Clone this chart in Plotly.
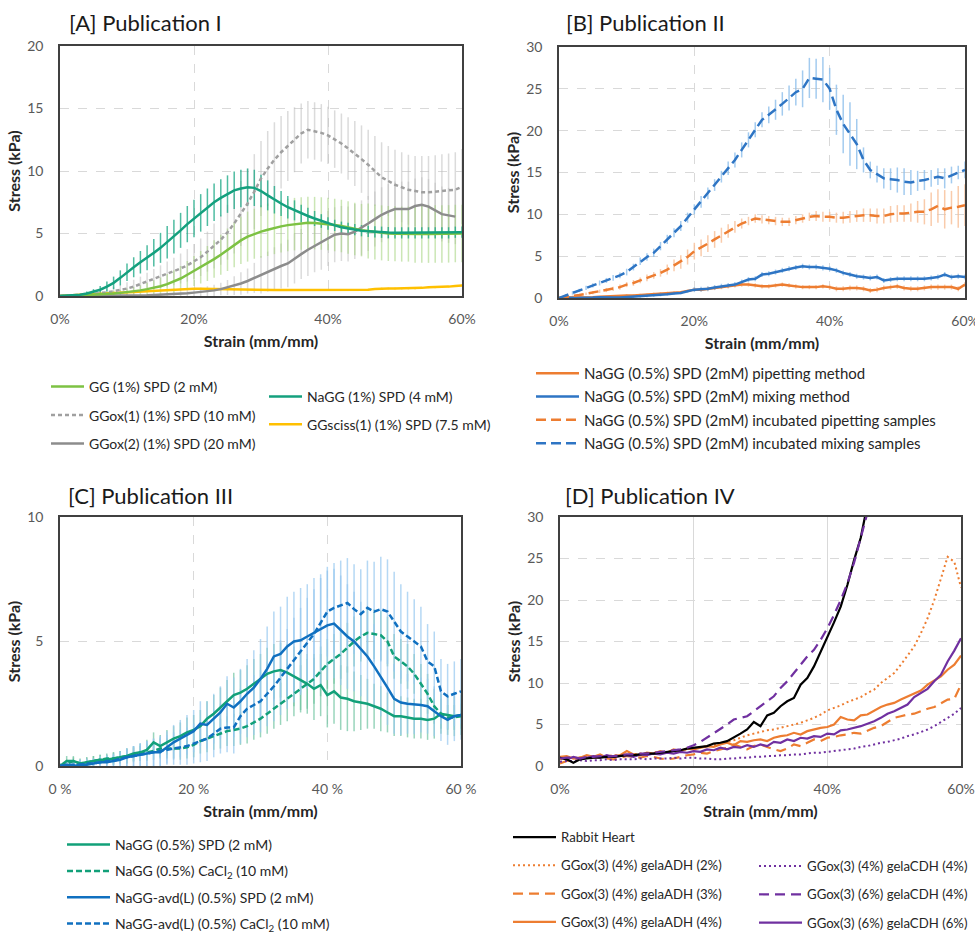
import plotly.graph_objects as go

# ---------------- data ----------------
STRAIN = list(range(61))  # strain in %
X_TICKS = [0, 20, 40, 60]
X_TICKTEXT = ["0%", "20%", "40%", "60%"]
X_TICKTEXT_C = ["0 %", "20 %", "40 %", "60 %"]

PANEL_TITLES = ["[A] Publication I", "[B] Publication II", "[C] Publication III", "[D] Publication IV"]
X_TITLE = "Strain (mm/mm)"
Y_TITLE = "Stress (kPa)"

# ---- Panel A ----
A_NAMES = ["GG (1%) SPD (2 mM)", "GGox(1) (1%) SPD (10 mM)", "GGox(2) (1%) SPD (20 mM)",
           "NaGG (1%) SPD (4 mM)", "GGsciss(1) (1%) SPD (7.5 mM)"]
A_GG = [0, 0, 0.02, 0.05, 0.08, 0.1, 0.13, 0.17, 0.2, 0.25, 0.3, 0.38, 0.45, 0.55, 0.65, 0.78, 0.95, 1.15, 1.4, 1.7,
        2.0, 2.3, 2.6, 2.95, 3.3, 3.7, 4.1, 4.45, 4.75, 4.98, 5.15, 5.3, 5.45, 5.57, 5.67, 5.75, 5.8, 5.85, 5.83, 5.8,
        5.75, 5.68, 5.6, 5.47, 5.35, 5.27, 5.2, 5.12, 5.05, 5.0, 4.97, 4.95, 4.95, 4.95, 4.95, 4.95, 4.95, 4.95, 4.97, 5.0, 5.0]
A_GG_ERR = [0.02, 0.03, 0.04, 0.05, 0.07, 0.1, 0.12, 0.15, 0.2, 0.25, 0.3, 0.35, 0.4, 0.5, 0.6, 0.7, 0.8, 0.9, 1.0, 1.1,
            1.2, 1.3, 1.4, 1.5, 1.6, 1.7, 1.8, 1.9, 2.0, 2.0, 2.1, 2.1, 2.1, 2.1, 2.1, 2.1, 2.1, 2.1, 2.1, 2.1,
            2.1, 2.1, 2.1, 2.1, 2.1, 2.1, 2.2, 2.2, 2.2, 2.2, 2.2, 2.2, 2.2, 2.3, 2.3, 2.3, 2.3, 2.3, 2.3, 2.3, 2.3]
A_GGOX1 = [0, 0.02, 0.05, 0.08, 0.12, 0.17, 0.22, 0.3, 0.38, 0.48, 0.6, 0.75, 0.95, 1.15, 1.35, 1.55, 1.75, 1.95, 2.2, 2.45,
           2.75, 3.1, 3.55, 4.0, 4.5, 5.1, 5.8, 6.6, 7.4, 8.35, 9.4, 10.2, 10.9, 11.5, 12.0, 12.5, 13.0, 13.3, 13.2, 13.05,
           12.85, 12.55, 12.2, 11.8, 11.4, 10.95, 10.5, 10.0, 9.5, 9.2, 8.9, 8.7, 8.5, 8.4, 8.3, 8.3, 8.35, 8.35, 8.4, 8.5, 8.75]
A_GGOX1_ERR = [0.05, 0.05, 0.1, 0.1, 0.15, 0.2, 0.25, 0.3, 0.35, 0.4, 0.5, 0.55, 0.6, 0.7, 0.8, 0.9, 1.0, 1.1, 1.2, 1.3,
               1.4, 1.5, 1.6, 1.8, 2.0, 2.2, 2.4, 2.6, 2.8, 3.0, 3.0, 3.0, 3.0, 2.9, 2.8, 2.6, 2.4, 2.3, 2.3, 2.3,
               2.3, 2.3, 2.4, 2.5, 2.6, 2.7, 2.8, 2.8, 2.8, 2.8, 2.8, 2.8, 2.8, 2.8, 2.9, 2.9, 2.9, 3.0, 3.0, 3.0, 3.0]
A_GGOX2 = [0, 0, 0, 0, 0, 0, 0, 0, 0.01, 0.02, 0.03, 0.04, 0.05, 0.06, 0.08, 0.1, 0.12, 0.15, 0.18, 0.22,
           0.27, 0.32, 0.38, 0.45, 0.55, 0.68, 0.82, 1.0, 1.2, 1.45, 1.7, 1.95, 2.2, 2.4, 2.6, 3.0, 3.35, 3.7, 4.0, 4.3,
           4.6, 4.9, 5.0, 4.95, 5.15, 5.45, 5.8, 6.15, 6.5, 6.75, 6.95, 6.95, 6.95, 7.2, 7.3, 7.15, 6.85, 6.55, 6.45, 6.35]
A_GGOX2_ERR = [0, 0, 0, 0, 0, 0, 0, 0, 0.02, 0.03, 0.05, 0.05, 0.06, 0.08, 0.1, 0.12, 0.15, 0.18, 0.2, 0.25,
               0.3, 0.35, 0.4, 0.45, 0.5, 0.6, 0.75, 0.9, 1.0, 1.2, 1.5, 1.6, 1.7, 1.8, 1.9, 2.0, 2.0, 2.1, 2.1, 2.2,
               2.2, 2.2, 2.2, 2.2, 2.2, 2.2, 2.2, 2.2, 2.2, 2.2, 2.2, 2.2, 2.2, 2.2, 2.2, 2.2, 2.2, 2.2, 2.2, 2.2]
A_NAGG = [0, 0.02, 0.05, 0.1, 0.2, 0.35, 0.5, 0.75, 1.05, 1.45, 1.9, 2.3, 2.7, 3.05, 3.45, 3.85, 4.3, 4.75, 5.25, 5.75,
          6.2, 6.65, 7.1, 7.5, 7.85, 8.15, 8.45, 8.6, 8.7, 8.65, 8.4, 8.05, 7.7, 7.4, 7.1, 6.85, 6.6, 6.4, 6.2, 6.0,
          5.8, 5.65, 5.5, 5.4, 5.3, 5.22, 5.17, 5.12, 5.1, 5.07, 5.05, 5.05, 5.05, 5.05, 5.05, 5.05, 5.05, 5.05, 5.05, 5.1, 5.1]
A_NAGG_ERR = [0.05, 0.05, 0.1, 0.1, 0.15, 0.2, 0.3, 0.4, 0.5, 0.6, 0.7, 0.8, 0.9, 1.0, 1.1, 1.2, 1.3, 1.35, 1.4, 1.45,
              1.5, 1.5, 1.5, 1.5, 1.5, 1.5, 1.5, 1.5, 1.5, 1.45, 1.3, 1.2, 1.1, 1.0, 0.9, 0.8, 0.7, 0.65, 0.6, 0.55,
              0.5, 0.45, 0.45, 0.45, 0.45, 0.45, 0.45, 0.45, 0.45, 0.45, 0.45, 0.45, 0.45, 0.45, 0.45, 0.45, 0.45, 0.45, 0.45, 0.45, 0.45]
A_SCISS = [0, 0.05, 0.08, 0.1, 0.12, 0.15, 0.17, 0.2, 0.22, 0.25, 0.28, 0.3, 0.33, 0.36, 0.4, 0.45, 0.5, 0.52, 0.55, 0.57,
           0.58, 0.58, 0.57, 0.55, 0.52, 0.5, 0.48, 0.48, 0.48, 0.48, 0.48, 0.48, 0.48, 0.48, 0.48, 0.48, 0.48, 0.48, 0.48, 0.48,
           0.48, 0.48, 0.48, 0.48, 0.48, 0.48, 0.5, 0.55, 0.6, 0.6, 0.6, 0.6, 0.6, 0.6, 0.65, 0.7, 0.7, 0.72, 0.75, 0.8, 0.85]
A_SCISS_ERR = [0.02] * 10 + [0.05] * 20 + [0.08] * 31

# ---- Panel B ----
B_NAMES = ["NaGG (0.5%) SPD (2mM) pipetting method", "NaGG (0.5%) SPD (2mM) mixing method",
           "NaGG (0.5%) SPD (2mM) incubated pipetting samples", "NaGG (0.5%) SPD (2mM) incubated mixing samples"]
B_PIP = [0, 0.1, 0.05, 0.05, 0.1, 0.1, 0.15, 0.2, 0.2, 0.25, 0.3, 0.3, 0.35, 0.4, 0.5, 0.55, 0.6, 0.65, 0.7, 0.85,
         1.0, 1.0, 1.1, 1.2, 1.3, 1.4, 1.5, 1.6, 1.6, 1.5, 1.4, 1.4, 1.5, 1.6, 1.5, 1.4, 1.3, 1.3, 1.3, 1.4,
         1.3, 1.1, 1.1, 1.2, 1.2, 1.1, 0.9, 1.0, 1.2, 1.3, 1.4, 1.2, 1.1, 1.1, 1.2, 1.3, 1.3, 1.3, 1.3, 1.1, 1.6]
B_PIP_ERR = [0.05] * 10 + [0.15] * 10 + [0.25] * 20 + [0.3] * 21
B_MIX = [0, 0, 0, 0, 0, 0.05, 0.1, 0.05, 0.05, 0.05, 0.1, 0.15, 0.2, 0.25, 0.3, 0.35, 0.45, 0.55, 0.6, 0.8,
         1.0, 1.05, 1.1, 1.25, 1.4, 1.5, 1.6, 1.9, 2.2, 2.3, 2.8, 2.9, 3.1, 3.3, 3.5, 3.65, 3.8, 3.7, 3.7, 3.6,
         3.5, 3.3, 3.0, 2.8, 2.6, 2.5, 2.4, 2.5, 2.1, 2.2, 2.3, 2.3, 2.3, 2.3, 2.3, 2.4, 2.5, 2.8, 2.5, 2.6, 2.5]
B_MIX_ERR = [0.05] * 10 + [0.15] * 10 + [0.3] * 20 + [0.3] * 21
B_INC_PIP = [0, 0.1, 0.2, 0.35, 0.5, 0.65, 0.8, 0.95, 1.1, 1.3, 1.6, 1.8, 2.1, 2.4, 2.7, 3.0, 3.4, 3.9, 4.3, 4.9,
             5.6, 6.0, 6.5, 7.0, 7.5, 8.0, 8.5, 8.9, 9.2, 9.5, 9.4, 9.3, 9.2, 9.1, 9.1, 9.3, 9.5, 9.7, 9.8, 9.7,
             9.7, 9.6, 9.6, 9.7, 9.8, 9.9, 9.9, 9.8, 9.8, 10.0, 10.1, 10.1, 10.2, 10.3, 10.3, 10.6, 11.0, 10.6, 10.8, 10.9, 11.1]
B_INC_PIP_ERR = [0.1, 0.1, 0.1, 0.15, 0.15, 0.2, 0.2, 0.25, 0.25, 0.3, 0.3, 0.35, 0.35, 0.4, 0.4, 0.45, 0.6, 0.7, 0.8, 0.9,
                 1.0, 1.0, 1.0, 1.0, 0.9, 0.8, 0.7, 0.6, 0.5, 0.5, 0.5, 0.5, 0.5, 0.5, 0.5, 0.5, 0.5, 0.5, 0.6, 0.6,
                 0.6, 0.6, 0.7, 0.7, 0.7, 0.8, 0.8, 0.9, 0.9, 1.0, 1.0, 1.0, 1.1, 1.3, 1.5, 2.0, 2.0, 2.3, 2.0, 2.5, 2.5]
B_INC_MIX = [0, 0.3, 0.6, 0.9, 1.2, 1.5, 1.8, 2.1, 2.4, 2.7, 3.1, 3.7, 4.4, 4.9, 5.4, 6.2, 7.0, 7.8, 8.6, 9.6,
             10.6, 11.5, 12.5, 13.5, 14.5, 15.5, 16.5, 17.7, 18.9, 20.1, 21.3, 21.9, 22.5, 23.2, 23.9, 24.6, 25.0, 26.3, 26.2, 26.1,
             25.0, 22.5, 20.8, 19.6, 18.4, 16.5, 15.3, 14.8, 14.3, 14.2, 14.1, 13.9, 13.8, 14.0, 14.1, 14.3, 14.5, 14.3, 14.7, 15.0, 15.3]
B_INC_MIX_ERR = [0.1, 0.15, 0.2, 0.2, 0.25, 0.25, 0.3, 0.3, 0.35, 0.35, 0.4, 0.4, 0.45, 0.45, 0.5, 0.5, 0.55, 0.55, 0.6, 0.6,
                 0.6, 0.7, 0.7, 0.7, 0.7, 0.8, 0.9, 0.9, 0.9, 0.9, 0.9, 1.0, 1.2, 1.4, 1.5, 1.6, 2.2, 2.4, 2.4, 2.7,
                 2.5, 3.0, 3.5, 3.8, 3.0, 1.5, 1.0, 1.0, 1.2, 1.3, 1.5, 1.6, 1.5, 1.2, 1.2, 1.0, 1.0, 1.2, 1.0, 0.8, 1.0]

# ---- Panel C ----
C_NAMES = ["NaGG (0.5%) SPD (2 mM)", "NaGG (0.5%) CaCl<sub>2</sub> (10 mM)",
           "NaGG-avd(L) (0.5%) SPD (2 mM)", "NaGG-avd(L) (0.5%) CaCl<sub>2</sub> (10 mM)"]
C_NAGG_SPD = [0, 0.2, 0.2, 0.1, 0.15, 0.2, 0.25, 0.25, 0.3, 0.35, 0.4, 0.5, 0.55, 0.65, 0.95, 0.8, 0.95, 1.1, 1.2, 1.35,
              1.45, 1.6, 1.9, 2.1, 2.35, 2.6, 2.85, 2.95, 3.1, 3.3, 3.5, 3.7, 3.8, 3.85, 3.75, 3.6, 3.45, 3.3, 3.1, 3.25,
              2.85, 3.0, 2.75, 2.7, 2.6, 2.55, 2.5, 2.4, 2.3, 2.15, 2.0, 2.0, 1.95, 1.9, 1.9, 1.85, 1.9, 2.1, 2.05, 2.0, 2.05]
C_NAGG_SPD_ERR = [0.1, 0.2, 0.2, 0.2, 0.2, 0.2, 0.2, 0.2, 0.25, 0.25, 0.3, 0.3, 0.35, 0.4, 0.4, 0.45, 0.5, 0.5, 0.55, 0.6,
                  0.6, 0.65, 0.7, 0.75, 0.8, 0.85, 0.9, 0.9, 0.95, 1.0, 1.0, 1.05, 1.1, 1.1, 1.15, 1.2, 1.2, 1.2, 1.25, 1.25,
                  1.3, 1.3, 1.3, 1.3, 1.2, 1.1, 1.0, 0.9, 0.9, 0.8, 0.8, 0.8, 0.8, 0.8, 0.8, 0.8, 0.8, 0.8, 0.8, 0.8, 0.8]
C_NAGG_CA = [0, 0.1, 0.2, 0.1, 0.15, 0.2, 0.25, 0.3, 0.3, 0.35, 0.4, 0.45, 0.5, 0.55, 0.6, 0.7, 0.7, 0.7, 0.7, 0.75,
             0.85, 1.0, 1.1, 1.2, 1.3, 1.4, 1.45, 1.5, 1.6, 1.75, 1.9, 2.1, 2.3, 2.5, 2.7, 2.9, 3.1, 3.3, 3.5, 3.8,
             4.1, 4.3, 4.5, 4.75, 5.0, 5.2, 5.35, 5.3, 5.25, 5.0, 4.4, 4.2, 4.0, 3.7, 3.3, 2.9, 2.4, 2.1, 1.95, 1.95, 2.0]
C_NAGG_CA_ERR = [0.1, 0.15, 0.15, 0.15, 0.2, 0.2, 0.2, 0.2, 0.25, 0.25, 0.3, 0.3, 0.3, 0.35, 0.35, 0.4, 0.4, 0.4, 0.45, 0.45,
                 0.5, 0.5, 0.55, 0.55, 0.6, 0.6, 0.65, 0.65, 0.7, 0.7, 0.75, 0.8, 0.8, 0.85, 0.9, 0.9, 0.95, 1.0, 1.0, 1.0,
                 1.0, 1.0, 1.0, 1.0, 1.0, 1.0, 1.0, 1.0, 1.0, 1.0, 0.9, 0.9, 0.9, 0.8, 0.8, 0.8, 0.7, 0.6, 0.5, 0.5, 0.5]
C_AVD_SPD = [0, 0.05, 0, 0.05, 0.05, 0.1, 0.15, 0.15, 0.2, 0.25, 0.35, 0.4, 0.45, 0.5, 0.55, 0.55, 0.75, 0.95, 1.1, 1.25,
             1.4, 1.7, 1.65, 1.9, 2.15, 2.5, 2.35, 2.6, 2.9, 3.15, 3.5, 3.9, 4.4, 4.5, 4.8, 5.0, 5.05, 5.2, 5.35, 5.5,
             5.65, 5.72, 5.45, 5.2, 5.0, 4.7, 4.4, 4.0, 3.6, 3.15, 2.7, 2.55, 2.5, 2.48, 2.45, 2.4, 2.2, 2.0, 1.85, 2.0, 2.05]
C_AVD_SPD_ERR = [0.1, 0.15, 0.2, 0.2, 0.2, 0.2, 0.2, 0.25, 0.25, 0.3, 0.35, 0.4, 0.45, 0.5, 0.55, 0.6, 0.65, 0.7, 0.75, 0.8,
                 0.85, 0.9, 0.95, 1.0, 1.05, 1.1, 1.2, 1.3, 1.4, 1.5, 1.6, 1.7, 1.8, 1.9, 2.0, 2.0, 2.1, 2.1, 2.2, 2.2,
                 2.2, 2.2, 2.2, 2.1, 2.0, 1.9, 1.8, 1.7, 1.6, 1.5, 1.4, 1.3, 1.2, 1.2, 1.1, 1.1, 1.0, 1.0, 1.0, 1.0, 1.0]
C_AVD_CA = [0, 0.05, 0.05, 0.05, 0.1, 0.1, 0.15, 0.2, 0.2, 0.3, 0.35, 0.4, 0.45, 0.5, 0.55, 0.6, 0.65, 0.7, 0.75, 0.8,
            0.9, 1.0, 1.1, 1.3, 1.5, 1.55, 1.55, 2.0, 2.3, 2.45, 2.6, 2.9, 3.2, 3.55, 3.9, 4.25, 4.6, 4.95, 5.3, 5.75,
            6.2, 6.35, 6.45, 6.55, 6.3, 6.1, 6.35, 6.2, 6.3, 6.2, 5.8, 5.4, 5.2, 5.0, 4.8, 4.2, 4.0, 3.0, 2.8, 2.9, 3.0]
C_AVD_CA_ERR = [0.1, 0.15, 0.2, 0.2, 0.2, 0.2, 0.25, 0.25, 0.3, 0.3, 0.35, 0.4, 0.45, 0.5, 0.55, 0.6, 0.6, 0.65, 0.7, 0.75,
                0.8, 0.85, 0.9, 0.95, 1.0, 1.0, 1.05, 1.1, 1.15, 1.2, 1.25, 1.3, 1.4, 1.5, 1.6, 1.7, 1.75, 1.8, 1.8, 1.8,
                1.8, 1.8, 1.8, 1.8, 1.8, 1.8, 1.9, 2.0, 2.1, 2.1, 2.0, 1.9, 1.8, 1.7, 1.6, 1.5, 1.4, 1.3, 1.3, 1.3, 1.3]

# ---- Panel D ----
D_NAMES = ["Rabbit Heart", "GGox(3) (4%) gelaADH (2%)", "GGox(3) (4%) gelaADH (3%)", "GGox(3) (4%) gelaADH (4%)",
           "GGox(3) (4%) gelaCDH (4%)", "GGox(3) (6%) gelaCDH (4%)", "GGox(3) (6%) gelaCDH (6%)"]
D_RABBIT = [1.0, 0.8, 0.4, 0.8, 0.9, 1.0, 1.0, 1.1, 1.1, 1.2, 1.3, 1.3, 1.4, 1.5, 1.5, 1.6, 1.7, 1.8, 1.9, 2.1,
            2.2, 2.3, 2.4, 2.7, 2.8, 3.0, 3.4, 3.9, 4.4, 5.3, 4.8, 6.1, 6.4, 7.2, 7.8, 8.2, 9.8, 10.6, 12.0, 13.7,
            15.5, 17.3, 19.2, 21.8, 24.8, 27.5, 31.5]
D_ADH2 = [0.8, 0.9, 1.0, 1.0, 1.1, 1.1, 1.2, 1.2, 1.3, 1.3, 1.4, 1.4, 1.5, 1.5, 1.6, 1.7, 1.7, 1.8, 1.9, 2.0,
          2.1, 2.2, 2.3, 2.5, 2.7, 2.9, 3.1, 3.4, 3.7, 3.9, 4.1, 4.3, 4.4, 4.6, 4.8, 5.0, 5.2, 5.5, 5.8, 6.2,
          6.7, 7.0, 7.3, 7.7, 8.0, 8.3, 8.8, 9.2, 10.0, 10.6, 11.2, 12.2, 13.3, 14.4, 16.0, 17.8, 20.0, 22.5, 25.2, 24.6, 21.5]
D_ADH3 = [0.3, 0.6, 0.8, 1.0, 0.9, 1.0, 1.1, 0.9, 0.8, 1.0, 1.2, 1.1, 1.0, 1.2, 1.1, 0.9, 0.8, 0.9, 1.1, 1.3,
          1.4, 1.6, 1.5, 1.8, 2.0, 2.2, 2.6, 2.3, 2.0, 2.4, 2.6, 2.3, 2.0, 1.8, 2.1, 2.6, 2.4, 2.8, 3.2, 3.0,
          3.4, 3.5, 3.7, 3.8, 4.0, 3.9, 4.3, 4.6, 4.8, 5.3, 5.8, 6.0, 6.2, 6.3, 6.6, 6.9, 7.1, 7.6, 8.0, 8.1, 9.8]
D_ADH4 = [1.1, 1.2, 0.9, 1.0, 1.3, 1.1, 1.4, 1.0, 1.2, 1.3, 1.8, 1.4, 1.3, 1.6, 1.5, 1.8, 1.6, 2.0, 1.8, 2.1,
          2.0, 2.2, 2.4, 2.3, 2.6, 2.8, 2.5, 3.0, 2.9, 3.1, 3.2, 3.0, 3.4, 3.6, 3.7, 4.0, 3.8, 4.2, 4.4, 4.6,
          4.7, 5.0, 5.9, 5.6, 5.5, 6.1, 6.2, 6.7, 7.1, 7.4, 7.6, 8.0, 8.4, 8.7, 9.1, 9.8, 10.3, 10.8, 11.6, 12.2, 13.3]
D_CDH4_4 = [0.5, 0.6, 0.6, 0.7, 0.6, 0.7, 0.7, 0.8, 0.7, 0.8, 0.8, 0.8, 0.9, 0.8, 0.9, 0.9, 0.9, 1.0, 0.9, 1.0,
            1.0, 0.9, 0.9, 0.8, 0.8, 0.9, 0.9, 1.0, 1.0, 1.1, 1.1, 1.2, 1.2, 1.3, 1.3, 1.4, 1.4, 1.5, 1.6, 1.6,
            1.7, 1.8, 1.9, 2.0, 2.1, 2.3, 2.4, 2.6, 2.8, 2.9, 3.1, 3.3, 3.6, 3.8, 4.1, 4.4, 4.8, 5.3, 5.8, 6.3, 7.0]
D_CDH6_4 = [0.9, 1.0, 1.0, 0.9, 1.1, 1.1, 1.2, 1.1, 1.2, 1.3, 1.4, 1.4, 1.5, 1.5, 1.6, 1.7, 1.8, 1.9, 2.0, 2.2,
            2.5, 2.9, 3.4, 3.9, 4.4, 5.0, 5.6, 5.8, 6.0, 6.6, 7.2, 7.8, 8.4, 9.4, 10.2, 11.2, 12.2, 13.2, 14.0, 15.2,
            16.6, 18.2, 20.0, 22.0, 24.5, 27.5, 30.5]
D_CDH6_6 = [1.0, 0.8, 1.1, 0.9, 1.0, 1.2, 1.0, 1.3, 1.1, 1.2, 1.3, 1.1, 1.4, 1.3, 1.5, 1.4, 1.6, 1.5, 1.7, 1.6,
            1.8, 1.7, 2.0, 1.9, 2.2, 2.0, 2.3, 2.2, 2.5, 2.3, 2.6, 2.4, 2.9, 2.8, 3.2, 3.0, 3.4, 3.3, 3.6, 3.5,
            3.9, 3.8, 4.3, 4.4, 4.6, 4.8, 5.1, 5.4, 5.8, 6.3, 6.6, 7.0, 7.4, 8.3, 8.8, 9.3, 10.2, 11.0, 12.6, 13.9, 15.4]

# ---------------- layout helpers ----------------
W, H = 975, 934
FONT = "Lato, 'Open Sans', sans-serif"


def px(x):
    return x / W


def py(y):
    return 1 - y / H


DOMAINS = {  # pixel boxes of plot areas: (left, right, top, bottom)
    1: (60, 462, 46, 296),
    2: (559, 965, 47, 298),
    3: (60, 461, 517, 766),
    4: (560, 961, 517, 766),
}
Y_RANGES = {1: 20, 2: 30, 3: 10, 4: 30}

fig = go.Figure()


def add_err(k, y, err, color, width=1.5):
    fig.add_trace(go.Scatter(
        x=STRAIN[:len(y)], y=y, mode="markers", marker=dict(size=1, color="rgba(0,0,0,0)"),
        error_y=dict(type="data", array=err[:len(y)], color=color, thickness=width, width=0),
        xaxis="x" if k == 1 else f"x{k}", yaxis="y" if k == 1 else f"y{k}",
        showlegend=False, hoverinfo="skip"))


def add_line(k, y, name, color, dash, width, legend, rank):
    fig.add_trace(go.Scatter(
        x=STRAIN[:len(y)], y=y, mode="lines", name=name,
        line=dict(color=color, dash=dash, width=width),
        xaxis="x" if k == 1 else f"x{k}", yaxis="y" if k == 1 else f"y{k}",
        legend=legend, legendgroup=name, legendrank=rank))


# Panel A
add_err(1, A_GGOX2, A_GGOX2_ERR, "rgba(190,190,190,0.55)")
add_err(1, A_GGOX1, A_GGOX1_ERR, "rgba(190,190,190,0.55)")
add_err(1, A_GG, A_GG_ERR, "rgba(160,210,120,0.55)")
add_err(1, A_SCISS, A_SCISS_ERR, "rgba(255,200,60,0.6)")
add_err(1, A_NAGG, A_NAGG_ERR, "rgba(20,165,130,0.75)")
add_line(1, A_SCISS, A_NAMES[4], "#FFC000", "solid", 2.5, "legend2", 2)
add_line(1, A_GGOX2, A_NAMES[2], "#8C8C8C", "solid", 2.5, "legend", 3)
add_line(1, A_GGOX1, A_NAMES[1], "#A0A0A0", "4px,3px", 2.5, "legend", 2)
add_line(1, A_GG, A_NAMES[0], "#7DC243", "solid", 2.5, "legend", 1)
add_line(1, A_NAGG, A_NAMES[3], "#14A07E", "solid", 2.5, "legend2", 1)

# Panel B
add_err(2, B_PIP, B_PIP_ERR, "rgba(248,190,150,0.8)")
add_err(2, B_MIX, B_MIX_ERR, "rgba(140,190,235,0.8)")
add_err(2, B_INC_PIP, B_INC_PIP_ERR, "rgba(248,190,150,0.8)")
add_err(2, B_INC_MIX, B_INC_MIX_ERR, "rgba(140,190,235,0.8)")
add_line(2, B_PIP, B_NAMES[0], "#ED7D31", "solid", 2.5, "legend3", 1)
add_line(2, B_MIX, B_NAMES[1], "#2E75C4", "solid", 2.5, "legend3", 2)
add_line(2, B_INC_PIP, B_NAMES[2], "#ED7D31", "10px,5px", 2.5, "legend3", 3)
add_line(2, B_INC_MIX, B_NAMES[3], "#2E75C4", "10px,5px", 2.5, "legend3", 4)

# Panel C
add_err(3, C_NAGG_SPD, C_NAGG_SPD_ERR, "rgba(110,195,160,0.7)")
add_err(3, C_NAGG_CA, C_NAGG_CA_ERR, "rgba(110,195,160,0.7)")
add_err(3, C_AVD_SPD, C_AVD_SPD_ERR, "rgba(150,200,240,0.7)")
add_err(3, C_AVD_CA, C_AVD_CA_ERR, "rgba(150,200,240,0.7)")
add_line(3, C_NAGG_SPD, C_NAMES[0], "#12A079", "solid", 2.5, "legend4", 1)
add_line(3, C_NAGG_CA, C_NAMES[1], "#12A079", "6px,3px", 2.5, "legend4", 2)
add_line(3, C_AVD_SPD, C_NAMES[2], "#1070C0", "solid", 2.5, "legend4", 3)
add_line(3, C_AVD_CA, C_NAMES[3], "#1070C0", "6px,3px", 2.5, "legend4", 4)

# Panel D
add_line(4, D_ADH2, D_NAMES[1], "#ED7D31", "2px,3px", 2, "legend5", 2)
add_line(4, D_ADH3, D_NAMES[2], "#ED7D31", "10px,6px", 2.2, "legend5", 3)
add_line(4, D_ADH4, D_NAMES[3], "#ED7D31", "solid", 2.2, "legend5", 4)
add_line(4, D_CDH4_4, D_NAMES[4], "#7030A0", "2px,3px", 2, "legend6", 1)
add_line(4, D_CDH6_6, D_NAMES[6], "#7030A0", "solid", 2.2, "legend6", 3)
add_line(4, D_RABBIT, D_NAMES[0], "#000000", "solid", 2.2, "legend5", 1)
add_line(4, D_CDH6_4, D_NAMES[5], "#7030A0", "10px,6px", 2.2, "legend6", 2)

# ---------------- axes ----------------
TICKFONT = dict(family=FONT, size=14, color="#595959")
AXTITLEFONT = dict(family=FONT, size=16, color="#262626")
layout_axes = {}
for k, (l, r, t, b) in DOMAINS.items():
    sx = "" if k == 1 else str(k)
    layout_axes[f"xaxis{sx}"] = dict(
        domain=[px(l), px(r)], anchor=f"y{sx}", range=[0, 60],
        tickvals=X_TICKS, ticktext=X_TICKTEXT_C if k == 3 else X_TICKTEXT,
        showgrid=True, gridcolor="#D9D9D9", gridwidth=1.2,
        griddash="solid" if k == 4 else "dash",
        zeroline=False, showline=True, mirror=True, linecolor="#404040", linewidth=1.5,
        ticks="", ticklabelstandoff=9, tickfont=TICKFONT, ticklabeloverflow="allow",
        title=dict(text=f"<b>{X_TITLE}</b>", font=AXTITLEFONT, standoff=10),
        automargin=False, fixedrange=True)
    layout_axes[f"yaxis{sx}"] = dict(
        domain=[py(b), py(t)], anchor=f"x{sx}", range=[0, Y_RANGES[k]], dtick=5,
        showgrid=True, gridcolor="#D9D9D9", gridwidth=1.2, griddash="dash",
        zeroline=False, showline=True, mirror=True, linecolor="#404040", linewidth=1.5,
        ticks="", ticklabelstandoff=12, tickfont=TICKFONT, ticklabeloverflow="allow",
        title=dict(text=f"<b>{Y_TITLE}</b>", font=AXTITLEFONT, standoff=3),
        automargin=False, fixedrange=True)

# ---------------- titles ----------------
TITLE_POS = [(67, 23), (564, 23), (66, 495), (563, 495)]
annotations = [dict(text=t, x=px(x), y=py(y), xref="paper", yref="paper", xanchor="left", yanchor="middle",
                    showarrow=False, font=dict(family=FONT, size=22, color="#1A1A1A"))
               for t, (x, y) in zip(PANEL_TITLES, TITLE_POS)]


# ---------------- legends ----------------
def leg(x, y, gap, size=14, itemwidth=43):
    return dict(x=px(x), y=py(y), xanchor="left", yanchor="top", orientation="v",
                traceorder="grouped", tracegroupgap=gap, bgcolor="rgba(0,0,0,0)", borderwidth=0,
                itemwidth=itemwidth, font=dict(family=FONT, size=size, color="#262626"), itemclick=False,
                itemdoubleclick=False)


fig.update_layout(
    width=W, height=H, margin=dict(l=0, r=0, t=0, b=0, autoexpand=False),
    paper_bgcolor="white", plot_bgcolor="white",
    font=dict(family=FONT),
    annotations=annotations,
    legend=leg(46, 371, 7.3, 14, 33),
    legend2=leg(264, 381, 6.5, 14, 33),
    legend3=leg(531, 357, 0.8, 15, 43),
    legend4=leg(62, 829, 5.1, 14, 43),
    legend5=leg(508, 822, 8.1, 13.2, 43),
    legend6=leg(754, 851, 8.1, 13.2, 43),
    **layout_axes,
)

fig.write_html("out.html")
